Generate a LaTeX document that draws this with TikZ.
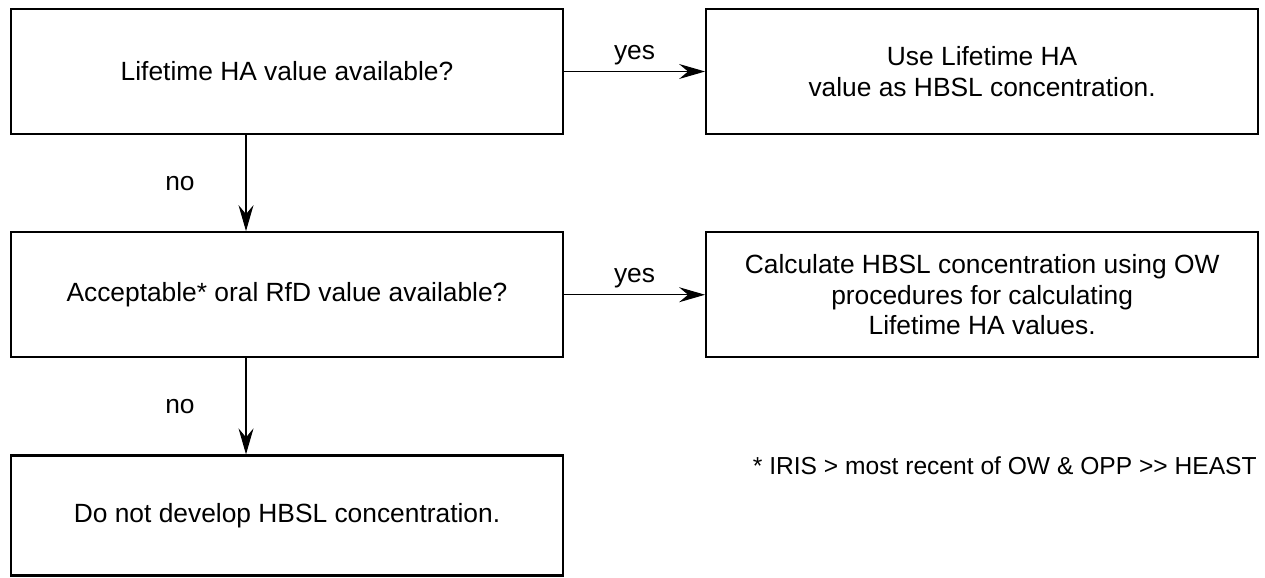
\documentclass[tikz,border=0pt]{standalone}
\usepackage{fontspec}
\setmainfont{Liberation Sans}
\usetikzlibrary{positioning,arrows.meta}

\tikzset{
  box/.style={rectangle, draw, line width=1.3pt, minimum width=11.04cm, minimum height=2.5cm, align=center, inner sep=0pt},
  flow/.style={-{Stealth[length=5.2mm,width=3mm,inset=1.8mm]}, line width=0.6pt},
}

\begin{document}
\begin{tikzpicture}[x=0.02cm, y=-0.02cm, node distance=1.92cm and 2.82cm, font=\fontsize{15}{17.5}\selectfont]
    \useasboundingbox (0,0) rectangle (1265,578);

    \node(lifetime)[box] at (287,71.5) {Lifetime HA value available?};
    \node(use-ha)[box, right=of lifetime] {Use Lifetime HA\\value as HBSL concentration.};

    \node(rfd)[box, below=of lifetime] {Acceptable* oral RfD value available?};
    \node(calc-ha)[box, right=of rfd] {Calculate HBSL concentration using OW\\procedures for calculating\\Lifetime HA values.};

    \node(nodevelop)[box, minimum height=2.4cm, below=of rfd] {Do not develop HBSL concentration.};

    \node(note)[anchor=east, inner sep=0pt, font=\fontsize{14}{17}\selectfont] at (1257,466) {* IRIS >{} most recent of OW \& OPP >{}>{} HEAST};


    \draw[flow] (lifetime) --node[above]{yes} (use-ha);
    \draw[flow] (rfd) --node[above]{yes} (calc-ha);
    \draw[flow] ([xshift=-0.82cm]lifetime.south) --node[left=0.9cm]{no} ([xshift=-0.82cm]rfd.north);
    \draw[flow] ([xshift=-0.82cm]rfd.south) --node[left=0.9cm]{no} ([xshift=-0.82cm]nodevelop.north);
  \end{tikzpicture}
\end{document}
